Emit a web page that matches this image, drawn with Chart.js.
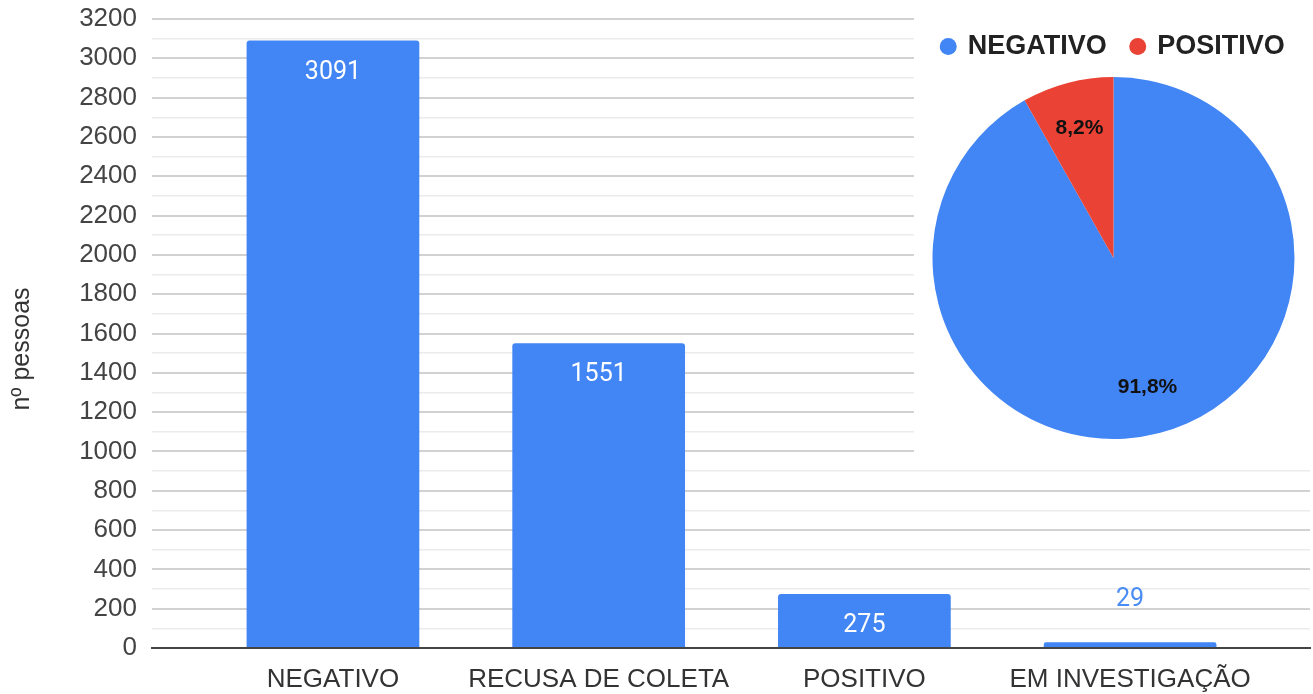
<!DOCTYPE html>
<html>
<head>
<meta charset="utf-8">
<script src="https://cdn.jsdelivr.net/npm/chart.js@4"></script>
<style>
  html, body { margin: 0; padding: 0; background: #fff; }
  #wrap { position: relative; width: 1313px; height: 694px; }
  #bars { position: absolute; left: 0; top: 0; }
  #pieBox { position: absolute; left: 914px; top: 0; width: 399px; height: 462px; background: #fff; }
</style>
</head>
<body>
<div id="wrap">
  <canvas id="bars" width="1313" height="694"></canvas>
  <div id="pieBox"><canvas id="pie" width="399" height="462"></canvas></div>
</div>
<script>
// data
const categories = ["NEGATIVO", "RECUSA DE COLETA", "POSITIVO", "EM INVESTIGAÇÃO"]
const pessoas = [3091, 1551, 275, 29]
const yMax = 3200
const yLabelStep = 200
const yGridStep = 100
const yTitle = "nº pessoas"

const pieLabels = ["NEGATIVO", "POSITIVO"]
const pieValues = [3091, 275]
const pieColors = ["#4285F4", "#EA4335"]

const sans = "'Liberation Sans', Arial, sans-serif"
const pieTotal = pieValues.reduce((a, b) => a + b, 0)
const pieShares = pieValues.map(v => (v / pieTotal * 100).toFixed(1).replace(".", ",") + "%")

// numbers on top of the bars (inside when there is room, above otherwise)
const barValueLabels = {
  id: "barValueLabels",
  afterDatasetsDraw(chart) {
    const ctx = chart.ctx
    const meta = chart.getDatasetMeta(0)
    ctx.save()
    ctx.font = "25px Roboto, " + sans
    ctx.textAlign = "center"
    ctx.textBaseline = "middle"
    meta.data.forEach((bar, i) => {
      if (bar.base - bar.y > 40) {
        ctx.fillStyle = "#ffffff"
        ctx.fillText(String(pessoas[i]), bar.x, bar.y + 32)
      } else {
        ctx.fillStyle = "#4a8cf5"
        ctx.fillText(String(pessoas[i]), bar.x, bar.y - 43)
      }
    })
    ctx.restore()
  }
}

// axis title, placed where the reference has it
const sideTitle = {
  id: "sideTitle",
  afterDraw(chart) {
    const ctx = chart.ctx
    ctx.save()
    ctx.translate(22, 349)
    ctx.rotate(-Math.PI / 2)
    ctx.font = "25px " + sans
    ctx.fillStyle = "#333"
    ctx.textAlign = "center"
    ctx.textBaseline = "middle"
    ctx.fillText(yTitle, 0, 0)
    ctx.restore()
  }
}

const pieValueLabels = {
  id: "pieValueLabels",
  afterDatasetsDraw(chart) {
    const ctx = chart.ctx
    const meta = chart.getDatasetMeta(0)
    ctx.save()
    ctx.font = "bold 21px " + sans
    ctx.fillStyle = "#111"
    ctx.textAlign = "center"
    ctx.textBaseline = "middle"
    meta.data.forEach((arc, i) => {
      const mid = (arc.startAngle + arc.endAngle) / 2
      const r = arc.outerRadius * 0.74
      ctx.fillText(pieShares[i], arc.x + Math.cos(mid) * r, arc.y + Math.sin(mid) * r)
    })
    ctx.restore()
  }
}

new Chart(document.getElementById("bars"), {
  type: "bar",
  data: {
    datasets: [{
      data: pessoas.map((v, i) => ({ x: i, y: v })),
      backgroundColor: "#4285F4",
      borderRadius: 3,
      categoryPercentage: 1,
      barPercentage: 0.65
    }]
  },
  options: {
    responsive: false,
    animation: false,
    layout: { padding: { top: 19, right: 3, left: 0, bottom: 0 } },
    plugins: { legend: { display: false }, tooltip: { enabled: false } },
    scales: {
      x: {
        type: "linear",
        min: -0.681,
        max: 3.677,
        offset: false,
        afterBuildTicks: s => { s.ticks = categories.map((c, i) => ({ value: i })) },
        afterFit: s => { s.height = 46; s.paddingLeft = 0; s.paddingRight = 0 },
        ticks: {
          callback: v => categories[v],
          autoSkip: false,
          maxRotation: 0,
          padding: 16,
          color: "#333",
          font: { family: sans, size: 26 }
        },
        grid: { display: false, drawTicks: false },
        border: { display: true, color: "#444", width: 2 }
      },
      y: {
        min: 0,
        max: yMax,
        afterBuildTicks: s => {
          const t = []
          for (let v = 0; v <= yMax; v += yGridStep) t.push({ value: v })
          s.ticks = t
        },
        afterFit: s => { s.width = 152; s.paddingTop = 0; s.paddingBottom = 0 },
        ticks: {
          autoSkip: false,
          padding: 15,
          color: "#444",
          font: { family: sans, size: 26 },
          callback: v => (v % yLabelStep === 0 ? String(v) : "")
        },
        grid: {
          drawTicks: false,
          color: c => (c.tick.value === 0 ? "#444" : c.tick.value % yLabelStep === 0 ? "#d2d2d2" : "#ebebeb"),
          lineWidth: c => (c.tick.value % yLabelStep === 0 ? 2 : 1.5)
        },
        border: { display: false }
      }
    }
  },
  plugins: [barValueLabels, sideTitle]
})

new Chart(document.getElementById("pie"), {
  type: "pie",
  data: {
    labels: pieLabels,
    datasets: [{
      data: pieValues,
      backgroundColor: pieColors,
      borderWidth: 0,
      hoverOffset: 0,
      radius: 181
    }]
  },
  options: {
    responsive: false,
    animation: false,
    layout: { padding: { top: 8, bottom: 16, left: 0, right: 0 } },
    plugins: {
      tooltip: { enabled: false },
      legend: {
        position: "top",
        labels: {
          usePointStyle: true,
          pointStyle: "circle",
          boxWidth: 12,
          boxHeight: 12,
          padding: 25,
          color: "#222",
          font: { family: sans, size: 27, weight: "bold" }
        }
      }
    }
  },
  plugins: [pieValueLabels]
})
</script>
</body>
</html>
